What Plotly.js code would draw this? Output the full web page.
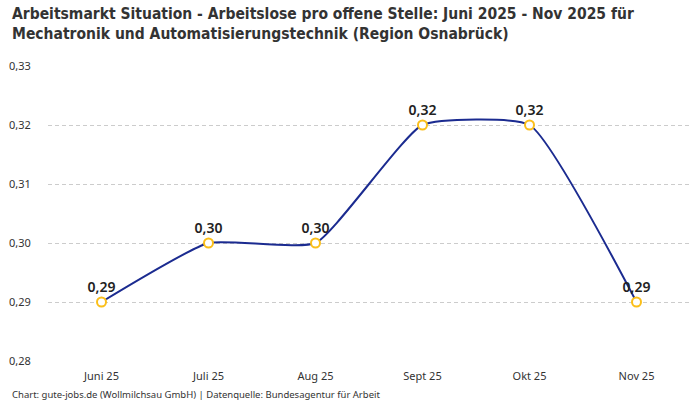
<!DOCTYPE html>
<html>
<head>
<meta charset="utf-8">
<script src="https://cdn.plot.ly/plotly-3.0.1.min.js"></script>
<style>
  html, body { margin: 0; padding: 0; background: #fff; }
  #chart { width: 700px; height: 400px; }
</style>
</head>
<body>
<div id="chart"></div>
<script>
// Monate und Werte (Arbeitslose pro offene Stelle)
var months = ['Juni 25', 'Juli 25', 'Aug 25', 'Sept 25', 'Okt 25', 'Nov 25'];
var ratio = [0.29, 0.30, 0.30, 0.32, 0.32, 0.29];
var yTicks = [0.28, 0.29, 0.30, 0.31, 0.32, 0.33];

var titleText = '<b>Arbeitsmarkt Situation - Arbeitslose pro offene Stelle: Juni 2025 - Nov 2025 für<br>Mechatronik und Automatisierungstechnik (Region Osnabrück)</b>';
var footerText = 'Chart: gute-jobs.de (Wollmilchsau GmbH) | Datenquelle: Bundesagentur für Arbeit';

var trace = {
    x: months,
    y: ratio,
    type: 'scatter',
    mode: 'lines+markers+text',
    line: { color: '#1b2b90', width: 2, shape: 'spline', smoothing: 0.45 },
    marker: { size: 9, color: '#ffffff', line: { color: '#fbbf1a', width: 2 } },
    texttemplate: '%{y:.2f}',
    textposition: 'top center',
    textfont: { family: 'Noto Sans, sans-serif', size: 14, color: '#222222', weight: 600 },
    cliponaxis: false,
    hoverinfo: 'skip'
};

var layout = {
    width: 700,
    height: 400,
    separators: ',.',
    margin: { l: 48, r: 10, t: 66, b: 39 },
    paper_bgcolor: '#ffffff',
    plot_bgcolor: '#ffffff',
    showlegend: false,
    xaxis: {
        type: 'category',
        range: [-0.5, months.length - 0.5],
        automargin: false,
        showgrid: false,
        zeroline: false,
        showline: false,
        ticks: 'outside',
        ticklen: 5,
        tickcolor: 'rgba(0,0,0,0)',
        tickfont: { family: 'Noto Sans, sans-serif', size: 11, color: '#333333' }
    },
    yaxis: {
        range: [0.28, 0.33],
        automargin: false,
        tickvals: yTicks,
        tickformat: '.2f',
        showgrid: true,
        gridcolor: '#cccccc',
        griddash: '4px,3px',
        gridwidth: 1,
        zeroline: false,
        showline: false,
        ticks: 'outside',
        ticklen: 14,
        tickcolor: 'rgba(0,0,0,0)',
        tickfont: { family: 'Noto Sans, sans-serif', size: 11, color: '#333333' }
    },
    annotations: [{
        text: titleText,
        xref: 'paper', yref: 'paper',
        x: -0.059, y: 1.215,
        xanchor: 'left', yanchor: 'top',
        align: 'left',
        showarrow: false,
        font: { family: 'DejaVu Sans Condensed, Liberation Sans Narrow, sans-serif', size: 15.5, color: '#333333' }
    }, {
        text: footerText,
        xref: 'paper', yref: 'paper',
        x: -0.059, y: -0.085,
        xanchor: 'left', yanchor: 'top',
        showarrow: false,
        font: { family: 'Noto Sans, sans-serif', size: 9.5, color: '#333333' }
    }]
};

Plotly.newPlot('chart', [trace], layout, { displayModeBar: false, staticPlot: true });
</script>
</body>
</html>
